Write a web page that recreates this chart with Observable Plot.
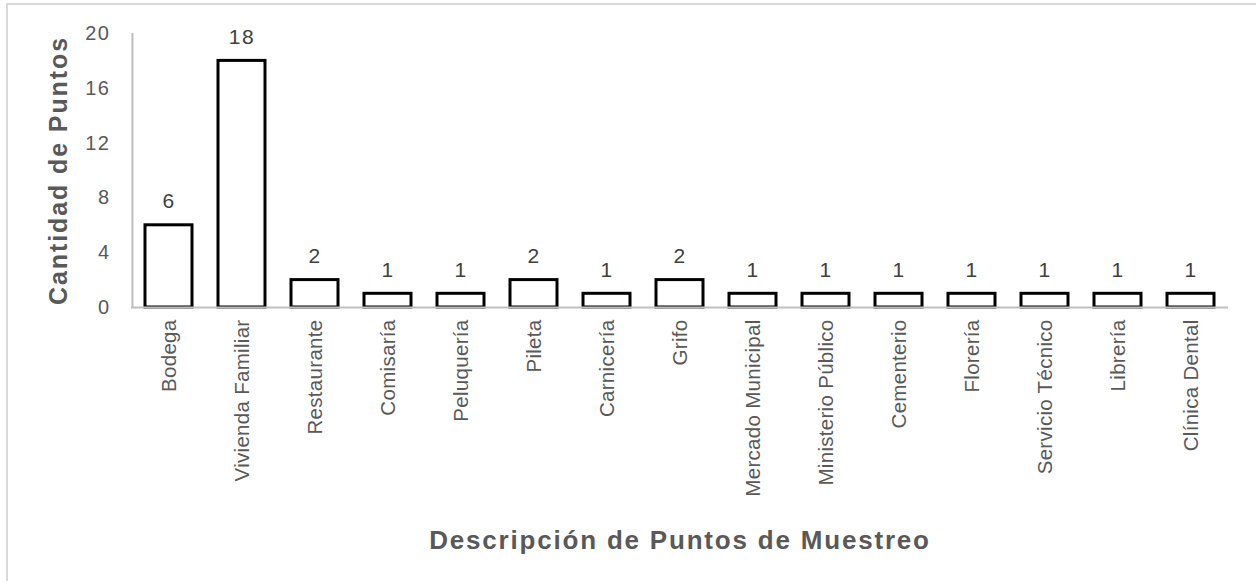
<!DOCTYPE html>
<html>
<head>
<meta charset="utf-8">
<script src="https://cdn.jsdelivr.net/npm/d3@7"></script>
<script src="https://cdn.jsdelivr.net/npm/@observablehq/plot@0.6"></script>
<style>
  html, body { margin: 0; padding: 0; background: #fff; }
  #wrap { position: relative; width: 1256px; height: 581px; overflow: hidden; }
  #border { position: absolute; left: 6px; top: 3px; right: -4px; bottom: -4px;
            border-top: 2px solid #d9d9d9; border-left: 2px solid #d9d9d9; pointer-events: none; }
  #chart svg { font-family: "Liberation Sans", Arial, sans-serif; }
  g[aria-label="x-axis label"] text {
    font-size: 26px; font-weight: bold; fill: #595959; letter-spacing: 1.8px;
  }
  g[aria-label="y-axis label"] text {
    font-size: 25px; font-weight: bold; fill: #595959; letter-spacing: 1.9px;
  }
  g[aria-label="y-axis tick label"] text { letter-spacing: 1.5px; }
  g[aria-label="x-axis tick label"] text { letter-spacing: 0.3px; }
  g[aria-label="text"] text { letter-spacing: 1.5px; }
</style>
</head>
<body>
<div id="wrap">
  <div id="chart"></div>
  <div id="border"></div>
</div>
<script>
const categories = ["Bodega", "Vivienda Familiar", "Restaurante", "Comisaría", "Peluquería", "Pileta",
  "Carnicería", "Grifo", "Mercado Municipal", "Ministerio Público", "Cementerio", "Florería",
  "Servicio Técnico", "Librería", "Clínica Dental"];
const counts = [6, 18, 2, 1, 1, 2, 1, 2, 1, 1, 1, 1, 1, 1, 1];
const yTicks = [0, 4, 8, 12, 16, 20];
const xTitle = "Descripción de Puntos de Muestreo";
const yTitle = "Cantidad de Puntos";

const data = categories.map((c, i) => ({category: c, value: counts[i]}));

const marginLeft = 131, marginRight = 28, width = 1256;
const step = (width - marginLeft - marginRight) / categories.length;

const chart = Plot.plot({
  width,
  height: 581,
  marginLeft,
  marginRight,
  marginTop: 33,
  marginBottom: 274,
  style: {background: "transparent", overflow: "visible"},
  x: {domain: categories, paddingInner: 0.36, paddingOuter: 0.18, align: 0.5},
  y: {domain: [0, 20]},
  marks: [
    Plot.axisY({
      ticks: yTicks, tickSize: 0, tickPadding: 21, fontSize: 20, color: "#595959",
      label: yTitle, labelAnchor: "center", labelArrow: "none", labelOffset: 82
    }),
    Plot.axisX({
      tickSize: 0, tickPadding: 12, tickRotate: -90, fontSize: 20.5, color: "#595959",
      label: xTitle, labelAnchor: "center", labelArrow: "none", labelOffset: 241
    }),
    Plot.ruleX([categories[0]], {x: d => d, stroke: "#bfbfbf", strokeWidth: 2, dx: -step / 2, y1: 0, y2: 20}),
    Plot.barY(data, {x: "category", y: "value", fill: "white", stroke: "black", strokeWidth: 3}),
    Plot.ruleY([0], {stroke: "#bfbfbf", strokeWidth: 2}),
    Plot.text(data, {x: "category", y: "value", text: "value", dy: -17, lineAnchor: "bottom",
      fontSize: 21, fill: "#404040"})
  ]
});
document.getElementById("chart").appendChild(chart);
</script>
</body>
</html>
